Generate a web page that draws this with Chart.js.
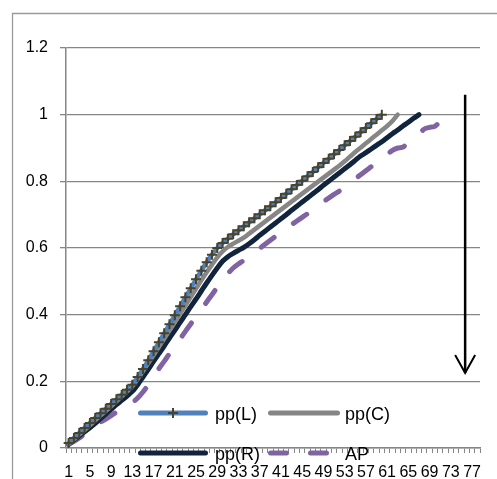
<!DOCTYPE html>
<html>
<head>
<meta charset="utf-8">
<script src="https://cdn.jsdelivr.net/npm/chart.js@4"></script>
<style>
  body { margin: 0; background: #fff; }
  canvas { display: block; }
</style>
</head>
<body>
<canvas id="chart" width="497" height="479"></canvas>
<script>
// x categories (1..78), every 4th one is labelled
const categories = ["1","2","3","4","5","6","7","8","9","10","11","12","13","14","15","16","17","18","19","20",
  "21","22","23","24","25","26","27","28","29","30","31","32","33","34","35","36","37","38","39","40",
  "41","42","43","44","45","46","47","48","49","50","51","52","53","54","55","56","57","58","59","60",
  "61","62","63","64","65","66","67","68","69","70","71","72","73","74","75","76","77","78"];
const yTicks = [0, 0.2, 0.4, 0.6, 0.8, 1, 1.2];
const seriesNames = ["pp(L)", "pp(C)", "pp(R)", "AP"];

const ppL = [0.015,0.03,0.045,0.06,0.075,0.09,0.104,0.118,0.132,0.146,0.16,0.175,0.19,0.213,0.237,0.263,0.29,0.317,0.344,0.371,
  0.398,0.425,0.452,0.479,0.506,0.532,0.557,0.58,0.6,0.615,0.628,0.641,0.653,0.665,0.677,0.689,0.701,0.713,0.725,0.737,
  0.75,0.763,0.776,0.789,0.802,0.815,0.828,0.842,0.855,0.868,0.881,0.894,0.908,0.921,0.934,0.947,0.96,0.974,0.987,1.0];
const ppC = [0.012,0.026,0.04,0.054,0.068,0.083,0.097,0.111,0.125,0.14,0.155,0.17,0.185,0.207,0.23,0.254,0.278,0.303,0.328,0.353,
  0.378,0.403,0.428,0.453,0.478,0.503,0.527,0.55,0.572,0.59,0.603,0.613,0.622,0.631,0.643,0.655,0.667,0.679,0.691,0.703,
  0.715,0.727,0.739,0.751,0.763,0.775,0.787,0.799,0.811,0.823,0.835,0.847,0.86,0.874,0.888,0.901,0.914,0.927,0.94,0.953,
  0.966,0.981,1.0];
const ppR = [0.012,0.024,0.036,0.049,0.061,0.074,0.088,0.102,0.116,0.13,0.143,0.156,0.17,0.19,0.213,0.236,0.26,0.283,0.306,0.33,
  0.353,0.377,0.4,0.424,0.447,0.471,0.495,0.518,0.54,0.56,0.574,0.584,0.593,0.602,0.613,0.625,0.638,0.65,0.663,0.675,
  0.688,0.7,0.713,0.725,0.738,0.75,0.763,0.775,0.788,0.8,0.813,0.825,0.838,0.85,0.863,0.876,0.886,0.897,0.908,0.919,
  0.931,0.943,0.954,0.966,0.977,0.989,1.0];
const ap = [0.01,0.02,0.03,0.042,0.055,0.068,0.078,0.087,0.097,0.108,0.12,0.128,0.136,0.15,0.168,0.19,0.214,0.238,0.26,0.283,
  0.305,0.327,0.35,0.372,0.394,0.416,0.438,0.46,0.482,0.503,0.523,0.54,0.552,0.563,0.575,0.587,0.599,0.611,0.623,0.635,
  0.647,0.658,0.67,0.681,0.692,0.703,0.715,0.727,0.739,0.75,0.761,0.771,0.781,0.794,0.807,0.82,0.832,0.844,0.856,0.868,
  0.88,0.893,0.9,0.903,0.918,0.93,0.942,0.957,0.962,0.965,0.98];

// downward arrow on the right, in data units (category index, value)
const arrowAt = 74.7;
const arrowFrom = 1.06;
const arrowTo = 0.225;

const axisGray = "#868686";

// white page plus the chart frame (only left/top edges show in the crop)
const framePlugin = {
  id: "frame",
  beforeDraw(chart) {
    const ctx = chart.ctx;
    ctx.save();
    ctx.fillStyle = "#fff";
    ctx.fillRect(0, 0, chart.width, chart.height);
    ctx.strokeStyle = "#9a9a9a";
    ctx.lineWidth = 1.3;
    ctx.beginPath();
    ctx.moveTo(12.5, chart.height + 5);
    ctx.lineTo(12.5, 13.5);
    ctx.lineTo(chart.width + 5, 13.5);
    ctx.stroke();
    ctx.restore();
  }
};

// legend sits inside the plot, over the x axis, like the original
const legendSlots = [
  { x: 138, y: 413, len: 70 },
  { x: 268, y: 413, len: 72 },
  { x: 138, y: 453, len: 70 },
  { x: 268, y: 453, len: 62 }
];
const legendPlugin = {
  id: "insideLegend",
  afterDraw(chart) {
    const ctx = chart.ctx;
    chart.data.datasets.forEach((ds, i) => {
      const s = legendSlots[i];
      ctx.save();
      ctx.strokeStyle = ds.borderColor;
      ctx.lineWidth = 5;
      ctx.lineCap = "round";
      ctx.setLineDash(ds.borderDash || []);
      ctx.beginPath();
      ctx.moveTo(s.x + 2.5, s.y);
      ctx.lineTo(s.x + s.len - 2.5, s.y);
      ctx.stroke();
      ctx.setLineDash([]);
      if (ds.pointStyle === "cross") {
        const mx = s.x + s.len / 2;
        ctx.strokeStyle = ds.pointBorderColor;
        ctx.lineWidth = ds.pointBorderWidth;
        ctx.lineCap = "butt";
        ctx.beginPath();
        ctx.moveTo(mx - 5, s.y); ctx.lineTo(mx + 5, s.y);
        ctx.moveTo(mx, s.y - 5); ctx.lineTo(mx, s.y + 5);
        ctx.stroke();
      }
      ctx.fillStyle = "#000";
      ctx.font = "18px 'Liberation Sans'";
      ctx.textBaseline = "middle";
      ctx.fillText(ds.label, s.x + 77, s.y + 2);
      ctx.restore();
    });
  }
};

const arrowPlugin = {
  id: "arrow",
  afterDraw(chart) {
    const ctx = chart.ctx;
    const x = chart.scales.x.getPixelForValue(arrowAt);
    const top = chart.scales.y.getPixelForValue(arrowFrom);
    const tip = chart.scales.y.getPixelForValue(arrowTo);
    ctx.save();
    ctx.strokeStyle = "#000";
    ctx.lineWidth = 2.5;
    ctx.beginPath();
    ctx.moveTo(x, top);
    ctx.lineTo(x, tip);
    ctx.stroke();
    ctx.lineWidth = 2;
    ctx.beginPath();
    ctx.moveTo(x - 10, tip - 18);
    ctx.lineTo(x, tip);
    ctx.lineTo(x + 10, tip - 18);
    ctx.stroke();
    ctx.restore();
  }
};

Chart.defaults.font.family = "'Liberation Sans', Arial, sans-serif";
Chart.defaults.color = "#000";

new Chart(document.getElementById("chart"), {
  type: "line",
  data: {
    labels: categories,
    datasets: [
      { label: seriesNames[0], data: ppL, borderColor: "#4f81bd", borderWidth: 4.5,
        pointStyle: "cross", pointRadius: 5, pointBorderColor: "#48432a", pointBorderWidth: 2,
        pointBackgroundColor: "#48432a", tension: 0.3 },
      { label: seriesNames[1], data: ppC, borderColor: "#868686", borderWidth: 4.5,
        pointRadius: 0, tension: 0.3, borderCapStyle: "round" },
      { label: seriesNames[2], data: ppR, borderColor: "#11243d", borderWidth: 5,
        pointRadius: 0, tension: 0.3, borderCapStyle: "round" },
      { label: seriesNames[3], data: ap, borderColor: "#8064a2", borderWidth: 5,
        pointRadius: 0, tension: 0.3, borderCapStyle: "round", borderDash: [16, 24] }
    ]
  },
  options: {
    responsive: false,
    animation: false,
    devicePixelRatio: 1,
    layout: { padding: { top: 48, right: 17, bottom: 0, left: 0 } },
    plugins: { legend: { display: false }, tooltip: { enabled: false } },
    scales: {
      x: {
        offset: true,
        afterFit(scale) { scale.height = 31; },
        grid: { offset: true, drawOnChartArea: false, color: axisGray, tickLength: 5 },
        border: { color: axisGray, width: 1.5 },
        ticks: {
          autoSkip: false, maxRotation: 0, padding: 10,
          font: { size: 16 },
          callback: (v, i) => (i % 4 === 0 ? categories[i] : "")
        }
      },
      y: {
        min: yTicks[0],
        max: yTicks[yTicks.length - 1],
        afterFit(scale) { scale.width = 66; },
        afterBuildTicks(scale) { scale.ticks = yTicks.map(v => ({ value: v })); },
        grid: { color: axisGray, lineWidth: 1.3, tickLength: 6 },
        border: { color: axisGray, width: 1.5 },
        ticks: {
          padding: 12,
          font: { size: 16 },
          callback: v => String(Math.round(v * 10) / 10)
        }
      }
    }
  },
  plugins: [framePlugin, legendPlugin, arrowPlugin]
});
</script>
</body>
</html>
